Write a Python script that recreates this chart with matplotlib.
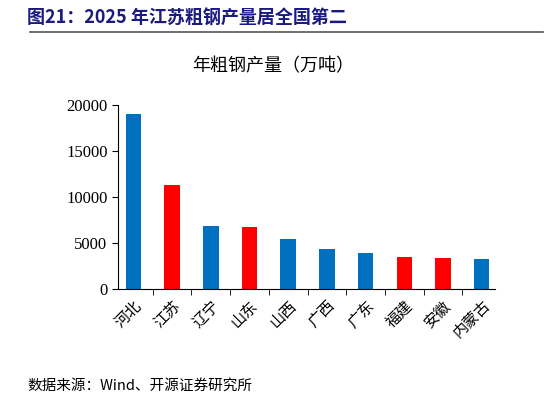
import matplotlib
matplotlib.use("Agg")
import matplotlib.pyplot as plt
from matplotlib.lines import Line2D

plt.rcParams['font.family'] = ['Noto Sans CJK SC', 'DejaVu Sans']

provinces = ['河北', '江苏', '辽宁', '山东', '山西', '广西', '广东', '福建', '安徽', '内蒙古']
output = [19020, 11300, 6850, 6740, 5430, 4350, 3910, 3480, 3370, 3260]
colors = ['#0070C0', '#FF0000', '#0070C0', '#FF0000', '#0070C0', '#0070C0', '#0070C0', '#FF0000', '#FF0000', '#0070C0']
yticks = [0, 5000, 10000, 15000, 20000]

fig = plt.figure(figsize=(5.46, 4.04), dpi=100)
ax = fig.add_axes([0.216, 0.285, 0.691, 0.455])
x = range(len(provinces))
ax.bar(x, output, width=0.4, color=colors)
ax.set_xlim(-0.4, len(provinces) - 0.65)
ax.set_ylim(0, 20000)
ax.set_yticks(yticks)
ax.set_yticklabels([str(v) for v in yticks], family='Liberation Serif', fontsize=12)
ax.set_xticks(list(x))
ax.set_xticklabels(provinces, rotation=45, ha='right', rotation_mode='anchor', fontsize=11)
ax.tick_params(axis='x', length=0, pad=6)
ax.tick_params(axis='y', direction='out', length=4)
for s in ['top', 'right']:
    ax.spines[s].set_visible(False)
ax.set_xticks([i + 0.5 for i in range(len(provinces) - 1)], minor=True)
ax.tick_params(axis='x', which='minor', length=4, direction='out')

fig.text(0.05, 0.955, '图21：2025 年江苏粗钢产量居全国第二', fontsize=13, fontweight='bold',
         color='#1A1A80', va='center', family=['Noto Sans CJK SC'])
fig.add_artist(Line2D([0.055, 0.995], [0.922, 0.922], color='#555555', lw=1.2))
fig.text(0.5, 0.835, '年粗钢产量（万吨）', fontsize=13, ha='center', va='center')
fig.text(0.05, 0.045, '数据来源：Wind、开源证券研究所', fontsize=10.5, va='center')
fig.savefig('out.png', dpi=100)
